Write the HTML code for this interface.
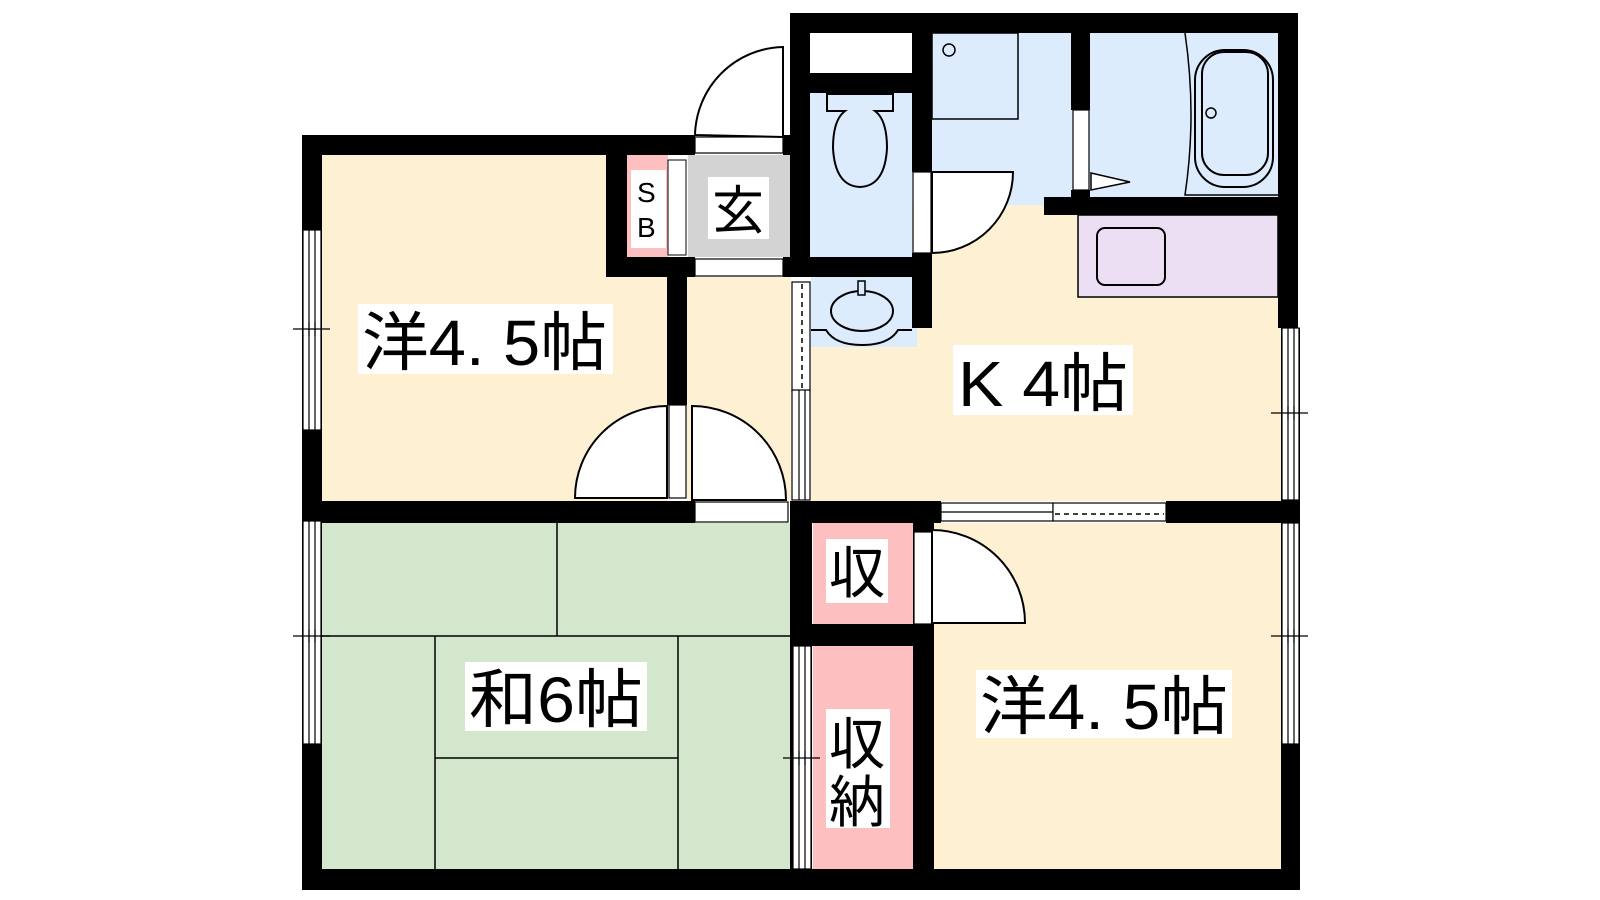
<!DOCTYPE html>
<html><head><meta charset="utf-8"><style>html,body{margin:0;padding:0;background:#fff}svg{display:block}</style></head>
<body>
<svg width="1600" height="900" viewBox="0 0 1600 900" xmlns="http://www.w3.org/2000/svg" font-family="'Liberation Sans','Noto Sans CJK JP',sans-serif">
<!-- room fills -->
<rect x="322" y="155" width="345" height="346" fill="#fdf0d3"/>
<rect x="687" y="277" width="104" height="224" fill="#fdf0d3"/>
<rect x="688" y="155" width="102" height="102" fill="#d3d3d3"/>
<rect x="627" y="155" width="41" height="102" fill="#fdbfbf"/>
<rect x="668" y="160" width="18" height="95" fill="#fff" stroke="#000" stroke-width="1"/>
<rect x="810" y="33" width="102" height="40" fill="#fff"/>
<rect x="811" y="205" width="470" height="296" fill="#fdf0d3"/>
<rect x="810" y="93" width="102" height="164" fill="#dcecfd"/>
<rect x="811" y="277" width="106" height="70" fill="#dcecfd"/>
<rect x="932" y="33" width="346" height="164" fill="#dcecfd"/>
<rect x="932" y="197" width="112" height="8" fill="#dcecfd"/>
<rect x="1078" y="215" width="200" height="82" fill="#ecdff4" stroke="#000" stroke-width="1.5"/>
<rect x="1097" y="228" width="68" height="57" rx="8" fill="none" stroke="#000" stroke-width="2"/>
<rect x="322" y="523" width="470" height="346" fill="#d2e7cb"/>
<rect x="813" y="523" width="100" height="101" fill="#fdbfbf"/>
<rect x="813" y="646" width="100" height="223" fill="#fdbfbf"/>
<rect x="934" y="523" width="347" height="346" fill="#fdf0d3"/>
<!-- tatami lines -->
<g stroke="#000" stroke-width="1.5">
<line x1="557" y1="523" x2="557" y2="636"/>
<line x1="322" y1="636" x2="792" y2="636"/>
<line x1="435" y1="636" x2="435" y2="869"/>
<line x1="678" y1="636" x2="678" y2="869"/>
<line x1="435" y1="758" x2="678" y2="758"/>
</g>
<!-- fixtures -->
<rect x="932" y="33" width="86" height="86" fill="none" stroke="#000" stroke-width="1.5"/>
<circle cx="949" cy="50" r="6" fill="none" stroke="#000" stroke-width="1.5"/>
<path d="M827,94 L893,94 L893,111 L875,111 Q887,120 887,148 Q885,186 860,187 Q835,186 833,148 Q833,120 845,111 L827,111 Z" fill="none" stroke="#000" stroke-width="2"/>
<path d="M811,330 L826,330 Q835,345 862,345 Q889,345 898,330 L912,330" fill="none" stroke="#000" stroke-width="2"/>
<ellipse cx="862" cy="311" rx="31" ry="20" fill="none" stroke="#000" stroke-width="2"/>
<rect x="858" y="281" width="7" height="14" fill="#dcecfd" stroke="#000" stroke-width="1.5"/>
<path d="M1185,33 Q1197,115 1185,195 L1278,195" fill="none" stroke="#000" stroke-width="1.5"/>
<rect x="1195" y="50" width="78" height="137" rx="30" fill="none" stroke="#000" stroke-width="2"/>
<rect x="1202" y="52" width="66" height="123" rx="22" fill="none" stroke="#000" stroke-width="2"/>
<circle cx="1211" cy="113" r="5" fill="none" stroke="#000" stroke-width="1.5"/>
<path d="M1091,173 L1130,182 L1091,190 Z" fill="#fff" stroke="#000" stroke-width="1.5"/>
<!-- walls -->
<g fill="#000">
<rect x="790" y="13" width="508" height="20"/>
<rect x="790" y="13" width="20" height="264"/>
<rect x="810" y="73" width="122" height="20"/>
<rect x="912" y="13" width="20" height="159"/>
<rect x="912" y="253" width="20" height="75"/>
<rect x="783" y="257" width="149" height="20"/>
<rect x="1071" y="33" width="19" height="77"/>
<rect x="1071" y="190" width="19" height="7"/>
<rect x="1044" y="197" width="254" height="18"/>
<rect x="1278" y="13" width="20" height="315"/>
<rect x="302" y="135" width="393" height="20"/>
<rect x="783" y="135" width="10" height="20"/>
<rect x="606" y="155" width="21" height="122"/>
<rect x="606" y="257" width="89" height="20"/>
<rect x="667" y="277" width="20" height="128"/>
<rect x="302" y="135" width="20" height="755"/>
<rect x="302" y="501" width="393" height="22"/>
<rect x="790" y="501" width="151" height="22"/>
<rect x="1166" y="501" width="134" height="22"/>
<rect x="790" y="501" width="22" height="389"/>
<rect x="302" y="869" width="998" height="21"/>
<rect x="913" y="501" width="21" height="389"/>
<rect x="790" y="624" width="144" height="22"/>
<rect x="1281" y="328" width="19" height="562"/>
</g>
<!-- panels / windows -->
<g fill="#fff" stroke="#000" stroke-width="1.2">
<rect x="695" y="137" width="88" height="16"/>
<rect x="695" y="259" width="88" height="17"/>
<rect x="913" y="172" width="18" height="81"/>
<rect x="1073" y="110" width="16" height="80"/>
<rect x="669" y="405" width="17" height="93"/>
<rect x="695" y="502" width="93" height="20"/>
<rect x="914" y="532" width="19" height="92"/>
<rect x="303" y="230" width="18" height="200"/>
<rect x="303" y="521" width="18" height="223"/>
<rect x="792" y="282" width="18" height="110"/>
<rect x="792" y="390" width="18" height="110"/>
<rect x="793" y="646" width="18" height="223"/>
<rect x="1282" y="328" width="17" height="172"/>
<rect x="1282" y="523" width="17" height="221"/>
<rect x="941" y="503" width="112" height="18"/>
<rect x="1053" y="503" width="113" height="18"/>
</g>
<g stroke="#000" stroke-width="1.2">
<line x1="309" y1="230" x2="309" y2="430"/><line x1="315" y1="230" x2="315" y2="430"/>
<line x1="309" y1="521" x2="309" y2="744"/><line x1="315" y1="521" x2="315" y2="744"/>
<line x1="799" y1="390" x2="799" y2="500"/><line x1="805" y1="390" x2="805" y2="500"/>
<line x1="799" y1="646" x2="799" y2="869"/><line x1="805" y1="646" x2="805" y2="869"/>
<line x1="1288" y1="328" x2="1288" y2="500"/><line x1="1294" y1="328" x2="1294" y2="500"/>
<line x1="1288" y1="523" x2="1288" y2="744"/><line x1="1294" y1="523" x2="1294" y2="744"/>
<line x1="941" y1="512" x2="1053" y2="512"/>
<line x1="293" y1="329" x2="330" y2="329"/><line x1="309" y1="322" x2="309" y2="336"/><line x1="315" y1="322" x2="315" y2="336"/>
<line x1="293" y1="636" x2="330" y2="636"/><line x1="309" y1="629" x2="309" y2="643"/><line x1="315" y1="629" x2="315" y2="643"/>
<line x1="783" y1="758" x2="820" y2="758"/><line x1="799" y1="751" x2="799" y2="765"/><line x1="805" y1="751" x2="805" y2="765"/>
<line x1="1271" y1="413" x2="1308" y2="413"/><line x1="1288" y1="406" x2="1288" y2="420"/><line x1="1294" y1="406" x2="1294" y2="420"/>
<line x1="1271" y1="636" x2="1308" y2="636"/><line x1="1288" y1="629" x2="1288" y2="643"/><line x1="1294" y1="629" x2="1294" y2="643"/>
</g>
<line x1="802" y1="284" x2="802" y2="390" stroke="#000" stroke-width="1.5" stroke-dasharray="5,4"/>
<line x1="1055" y1="514" x2="1164" y2="514" stroke="#000" stroke-width="1.5" stroke-dasharray="5,4"/>
<!-- doors -->
<g fill="#fff" stroke="#000" stroke-width="2">
<path d="M783,137 L783,47 A90,90 0 0,0 695,135 Z"/>
<path d="M932,172 L1013,172 A81,81 0 0,1 932,253 Z"/>
<path d="M667,498 L575,498 A92,92 0 0,1 667,406 Z"/>
<path d="M692,500 L692,406 A94,94 0 0,1 786,500 Z"/>
<path d="M932,623 L1025,623 A93,93 0 0,0 932,530 Z"/>
</g>
<!-- labels -->
<g fill="#fff">
<rect x="358" y="304" width="255" height="70"/>
<rect x="953" y="345" width="180" height="70"/>
<rect x="465" y="662" width="182" height="69"/>
<rect x="976" y="670" width="256" height="68"/>
<rect x="708" y="177" width="61" height="62"/>
<rect x="631" y="170" width="35" height="78"/>
<rect x="826" y="539" width="62" height="64"/>
<rect x="826" y="709" width="64" height="119"/>
</g>
<g fill="#000">
<text x="362" y="365" font-size="64" textLength="245" lengthAdjust="spacingAndGlyphs">洋4. 5帖</text>
<text x="958" y="406" font-size="64" textLength="170" lengthAdjust="spacingAndGlyphs">K 4帖</text>
<text x="469" y="722" font-size="64" textLength="174" lengthAdjust="spacingAndGlyphs">和6帖</text>
<text x="980" y="729" font-size="64" textLength="248" lengthAdjust="spacingAndGlyphs">洋4. 5帖</text>
<text x="712" y="229" font-size="52">玄</text>
<text x="637" y="202" font-size="28">S</text>
<text x="637" y="237" font-size="28">B</text>
<text x="829" y="593" font-size="56">収</text>
<text x="829" y="764" font-size="56">収</text>
<text x="829" y="822" font-size="56">納</text>
</g>
</svg>
</body></html>
